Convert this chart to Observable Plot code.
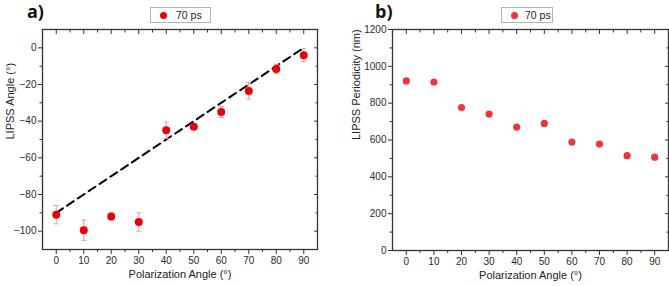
<!DOCTYPE html>
<html>
<head>
<meta charset="utf-8">
<script src="https://cdn.jsdelivr.net/npm/d3@7"></script>
<script src="https://cdn.jsdelivr.net/npm/@observablehq/plot@0.6"></script>
<style>
  body { margin: 0; background: #fff; font-family: "Liberation Sans", Arial, sans-serif; }
  #wrap { position: relative; width: 669px; height: 286px; overflow: hidden; background: #fff; }
  .panel { position: absolute; top: 0; }
  .tag { position: absolute; font-family: "Open Sans", sans-serif; font-weight: 700; font-size: 18px; color: #111; line-height: 1; }
  .legend { position: absolute; box-sizing: border-box; border: 1px solid #b4b4b4; background: #fff; height: 16px; font-size: 10.5px; color: #222; white-space: nowrap; }
  .legend .sw { position: absolute; top: 4px; border-radius: 50%; }
  .legend .lt { position: absolute; top: 1px; line-height: 13px; }
</style>
</head>
<body>
<div id="wrap">
  <div class="panel" id="pa" style="left:0px"></div>
  <div class="panel" id="pb" style="left:335px"></div>
  <div class="tag" style="left:27px;top:2px">a)</div>
  <div class="tag" style="left:375px;top:2px">b)</div>
  <div class="legend" style="left:150px;top:7px;width:61px">
    <div class="sw" style="left:9px;width:7px;height:7px;background:#e8000b"></div>
    <div class="lt" style="left:25px">70 ps</div>
  </div>
  <div class="legend" style="left:501px;top:7px;width:52px">
    <div class="sw" style="left:9px;width:7px;height:7px;background:#e8383d"></div>
    <div class="lt" style="left:23px">70 ps</div>
  </div>
</div>
<script>
// ---- data ----
const polAngle      = [0, 10, 20, 30, 40, 50, 60, 70, 80, 90];
const lipssAngle    = [-91, -99.5, -92, -95, -45, -43, -35, -23.5, -11.5, -4];
const lipssAngleErr = [5, 5.5, 2, 5, 4.5, 1.5, 3, 4.5, 2.5, 3.5];
const lipssPeriod   = [921, 915, 776, 741, 670, 690, 589, 578, 515, 507];
const fitX = [0, 90];
const fitY = [-90, 0];
const xTicks  = [0, 10, 20, 30, 40, 50, 60, 70, 80, 90];
const xMinor  = [5, 15, 25, 35, 45, 55, 65, 75, 85];
const yTicksA = [-100, -80, -60, -40, -20, 0];
const yMinorA = [-90, -70, -50, -30, -10];
const yTicksB = [0, 200, 400, 600, 800, 1000, 1200];
const yMinorB = [100, 300, 500, 700, 900, 1100];
const xTitle = "Polarization Angle (°)";
const yTitleA = "LIPSS Angle (°)";
const yTitleB = "LIPSS Periodicity (nm)";

const rowsA = polAngle.map((x, i) => ({x, y: lipssAngle[i], e: lipssAngleErr[i]}));
const rowsB = polAngle.map((x, i) => ({x, y: lipssPeriod[i]}));
const fitRows = fitX.map((x, i) => ({x, y: fitY[i]}));

const capSymbol = {
  draw(ctx, size) {
    const w = Math.sqrt(size / Math.PI);
    ctx.moveTo(-w, 0);
    ctx.lineTo(w, 0);
  }
};

const frameColor = "#333";
const style = {fontFamily: "'Liberation Sans', Arial, sans-serif", fontSize: "10px", color: "#2a2a2a", background: "transparent", overflow: "visible"};
const fmt = d => d < 0 ? "\u2212" + Math.abs(d) : String(d);

function axesMarks(yTicks, yMinor) {
  return [
    Plot.frame({stroke: frameColor, strokeWidth: 1.3}),
    Plot.axisX(xTicks, {anchor: "bottom", tickSize: 5, tickPadding: 2, tickFormat: fmt, label: null, stroke: frameColor}),
    Plot.axisX(xMinor, {anchor: "bottom", tickSize: 3, text: null, label: null, stroke: frameColor}),
    Plot.axisX(xTicks, {anchor: "top", tickSize: 4, dy: 4, text: null, label: null, stroke: frameColor}),
    Plot.axisX(xMinor, {anchor: "top", tickSize: 2.5, dy: 2.5, text: null, label: null, stroke: frameColor}),
    Plot.axisY(yTicks, {anchor: "left", tickSize: 4, tickPadding: 2, tickFormat: fmt, label: null, stroke: frameColor}),
    Plot.axisY(yMinor, {anchor: "left", tickSize: 2.5, text: null, label: null, stroke: frameColor}),
    Plot.axisY(yTicks, {anchor: "right", tickSize: 4, dx: -4, text: null, label: null, stroke: frameColor}),
    Plot.axisY(yMinor, {anchor: "right", tickSize: 2.5, dx: -2.5, text: null, label: null, stroke: frameColor}),
    Plot.text([xTitle], {frameAnchor: "bottom", dy: 28, text: d => d, fontSize: 11, fill: "#222"})
  ];
}

const plotA = Plot.plot({
  width: 335, height: 286,
  marginLeft: 42, marginRight: 18, marginTop: 29, marginBottom: 37,
  style,
  x: {domain: [-5, 95], axis: null},
  y: {domain: [-110, 10], axis: null},
  marks: [
    ...axesMarks(yTicksA, yMinorA),
    Plot.text([yTitleA], {frameAnchor: "left", rotate: -90, dx: -32, text: d => d, fontSize: 11, fill: "#222"}),
    Plot.line(fitRows, {x: "x", y: "y", stroke: "#000", strokeWidth: 2, strokeDasharray: "8,5"}),
    Plot.ruleX(rowsA, {x: "x", y1: d => d.y - d.e, y2: d => d.y + d.e, stroke: "#f29a9a", strokeWidth: 1}),
    Plot.dot(rowsA, {x: "x", y: d => d.y - d.e, symbol: capSymbol, r: 2.5, fill: "none", stroke: "#f29a9a", strokeWidth: 1}),
    Plot.dot(rowsA, {x: "x", y: d => d.y + d.e, symbol: capSymbol, r: 2.5, fill: "none", stroke: "#f29a9a", strokeWidth: 1}),
    Plot.dot(rowsA, {x: "x", y: "y", r: 4, fill: "#e8000b", stroke: null})
  ]
});
document.getElementById("pa").append(plotA);

const plotB = Plot.plot({
  width: 334, height: 286,
  marginLeft: 57, marginRight: 1, marginTop: 29, marginBottom: 36,
  style,
  x: {domain: [-5, 95], axis: null},
  y: {domain: [0, 1200], axis: null},
  marks: [
    ...axesMarks(yTicksB, yMinorB),
    Plot.text([yTitleB], {frameAnchor: "left", rotate: -90, dx: -36, text: d => d, fontSize: 11, fill: "#222"}),
    Plot.dot(rowsB, {x: "x", y: "y", r: 3.6, fill: "#e8383d", stroke: null})
  ]
});
document.getElementById("pb").append(plotB);
</script>
</body>
</html>
